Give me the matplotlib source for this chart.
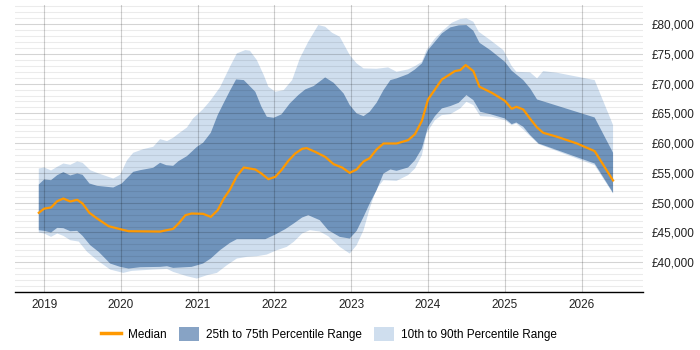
import numpy as np
import matplotlib

matplotlib.use("Agg")
import matplotlib.pyplot as plt
from matplotlib.lines import Line2D
from matplotlib.patches import Patch
from matplotlib.ticker import FuncFormatter, MultipleLocator

plt.rcParams["font.family"] = ["Liberation Sans", "DejaVu Sans"]

# values (x = decimal year, y = salary in GBP)
med_x = [2018.93, 2019.00, 2019.09, 2019.17, 2019.25, 2019.34, 2019.43, 2019.50, 2019.59, 2019.69,
         2019.84, 2020.01, 2020.10, 2020.51, 2020.68, 2020.75, 2020.84, 2020.92, 2021.07, 2021.17,
         2021.26, 2021.34, 2021.42, 2021.51, 2021.60, 2021.75, 2021.83, 2021.92, 2022.01, 2022.09,
         2022.18, 2022.27, 2022.36, 2022.42, 2022.53, 2022.66, 2022.77, 2022.88, 2022.98, 2023.07,
         2023.16, 2023.24, 2023.33, 2023.42, 2023.59, 2023.74, 2023.83, 2023.92, 2024.00, 2024.09,
         2024.18, 2024.27, 2024.35, 2024.42, 2024.49, 2024.59, 2024.67, 2024.83, 2025.00, 2025.09,
         2025.15, 2025.24, 2025.33, 2025.42, 2025.50, 2025.68, 2025.94, 2026.17, 2026.41]
median = [48300, 49000, 49200, 50250, 50700, 50200, 50480, 49860, 48290, 47340,
          46050, 45490, 45210, 45150, 45600, 46500, 47900, 48180, 48130, 47620,
          48740, 50700, 52210, 54460, 55910, 55580, 54900, 53950, 54340, 55460,
          57030, 58260, 59050, 59160, 58540, 57700, 56470, 55910, 55010, 55580,
          56920, 57480, 58940, 59940, 59940, 60500, 61510, 63750, 67340, 69020,
          70700, 71430, 72100, 72270, 73110, 72100, 69470, 68460, 67120, 65770,
          66110, 65660, 64090, 62630, 61740, 61070, 59940, 58660, 53730]

p75_x = [2018.93, 2019.00, 2019.09, 2019.17, 2019.25, 2019.34, 2019.43, 2019.50, 2019.59, 2019.69,
         2019.90, 2020.01, 2020.16, 2020.25, 2020.42, 2020.51, 2020.59, 2020.68, 2020.75, 2020.86,
         2020.99, 2021.07, 2021.17, 2021.26, 2021.34, 2021.42, 2021.50, 2021.60, 2021.75, 2021.83,
         2021.90, 2021.99, 2022.09, 2022.20, 2022.31, 2022.40, 2022.51, 2022.66, 2022.77, 2022.90,
         2022.98, 2023.07, 2023.16, 2023.24, 2023.33, 2023.42, 2023.51, 2023.59, 2023.74, 2023.83,
         2023.92, 2024.00, 2024.09, 2024.18, 2024.29, 2024.40, 2024.50, 2024.59, 2024.67, 2024.81,
         2025.00, 2025.09, 2025.24, 2025.33, 2025.42, 2026.17, 2026.41]
p75 = [53050, 53900, 53780, 54620, 55130, 54570, 54900, 54680, 53220, 52830,
       52550, 53220, 55180, 55460, 55860, 56700, 56300, 56190, 56980, 57820,
       59380, 60060, 61740, 64710, 66780, 68800, 70700, 70590, 68630, 66110,
       64430, 64260, 64820, 66670, 68070, 69020, 69580, 71040, 70140, 68350,
       66390, 64990, 64540, 65270, 66780, 68910, 70590, 70870, 71600, 72380,
       73390, 75630, 77030, 78430, 79440, 79780, 79830, 78880, 76860, 75630,
       73670, 72160, 70590, 69190, 67340, 64310, 58380]

p25_x = [2018.93, 2019.00, 2019.09, 2019.17, 2019.25, 2019.34, 2019.43, 2019.50, 2019.60, 2019.71,
         2019.86, 2019.99, 2020.10, 2020.25, 2020.51, 2020.60, 2020.68, 2020.92, 2021.07, 2021.17,
         2021.29, 2021.42, 2021.51, 2021.75, 2021.88, 2022.01, 2022.14, 2022.25, 2022.36, 2022.44,
         2022.59, 2022.70, 2022.85, 2022.98, 2023.07, 2023.16, 2023.24, 2023.33, 2023.42, 2023.51,
         2023.59, 2023.74, 2023.83, 2023.92, 2024.00, 2024.09, 2024.18, 2024.29, 2024.40, 2024.50,
         2024.59, 2024.68, 2024.81, 2025.00, 2025.09, 2025.15, 2025.24, 2025.33, 2025.44, 2026.17,
         2026.41]
p25 = [45380, 45270, 44990, 45770, 45720, 45210, 45270, 44430, 42860, 41740,
       39780, 39220, 38940, 39160, 39220, 39330, 39050, 39220, 39780, 40620,
       42020, 43250, 43870, 43870, 43870, 44650, 45550, 46500, 47510, 47900,
       47060, 45380, 44260, 43980, 45270, 47620, 49860, 52100, 54900, 55580,
       55350, 55910, 57140, 59100, 62750, 64540, 65830, 66220, 66780, 68070,
       67230, 65270, 64870, 64150, 63190, 63470, 62750, 61350, 59940, 56580,
       51650]

p90_x = [2018.93, 2019.00, 2019.09, 2019.17, 2019.25, 2019.34, 2019.43, 2019.50, 2019.60, 2019.71,
         2019.90, 2019.99, 2020.08, 2020.16, 2020.29, 2020.42, 2020.51, 2020.60, 2020.68, 2020.77,
         2020.86, 2020.94, 2021.07, 2021.16, 2021.29, 2021.42, 2021.51, 2021.62, 2021.68, 2021.77,
         2021.86, 2021.92, 2022.01, 2022.12, 2022.23, 2022.33, 2022.44, 2022.57, 2022.66, 2022.75,
         2022.85, 2022.98, 2023.07, 2023.16, 2023.33, 2023.48, 2023.59, 2023.74, 2023.83, 2023.92,
         2023.98, 2024.09, 2024.20, 2024.31, 2024.42, 2024.50, 2024.59, 2024.66, 2024.81, 2024.98,
         2025.09, 2025.15, 2025.33, 2025.42, 2025.50, 2025.68, 2026.17, 2026.41]
p90 = [55740, 55910, 55410, 56020, 56580, 56360, 56920, 56700, 55460, 54900,
       54060, 54680, 57140, 58380, 58990, 59380, 60670, 60340, 60900, 61790,
       62630, 64150, 65710, 67060, 69360, 72830, 75070, 75630, 75520, 73950,
       71430, 69470, 68630, 68910, 70590, 74230, 77030, 79830, 79550, 78540,
       77870, 74790, 73390, 72550, 72490, 72720, 71990, 72380, 72940, 73670,
       75630, 77590, 78990, 80220, 80840, 80950, 80390, 78710, 77310, 75630,
       72940, 71990, 71880, 70870, 72100, 71820, 70590, 63030]

p10_x = [2018.93, 2019.00, 2019.09, 2019.17, 2019.25, 2019.34, 2019.45, 2019.56, 2019.69, 2019.86,
         2020.03, 2020.14, 2020.42, 2020.60, 2020.68, 2020.86, 2020.99, 2021.12, 2021.25, 2021.38,
         2021.51, 2021.64, 2021.77, 2021.90, 2022.03, 2022.16, 2022.25, 2022.36, 2022.46, 2022.59,
         2022.70, 2022.85, 2022.98, 2023.07, 2023.16, 2023.24, 2023.33, 2023.42, 2023.59, 2023.74,
         2023.83, 2023.92, 2023.98, 2024.09, 2024.18, 2024.29, 2024.42, 2024.50, 2024.59, 2024.68,
         2024.83, 2025.00, 2025.09, 2025.15, 2025.24, 2025.33, 2025.44, 2026.17, 2026.41]
p10 = [44990, 44820, 44260, 44820, 44430, 43700, 43470, 41740, 40340, 38770,
       38210, 38550, 38770, 38880, 38380, 37650, 37260, 37820, 38210, 39500,
       40620, 40900, 41010, 41290, 42020, 42580, 43420, 44820, 45380, 45160,
       44370, 42580, 41460, 42860, 45380, 49020, 52380, 53780, 53670, 54620,
       55740, 57980, 61630, 63870, 64710, 64870, 65830, 66950, 66390, 64540,
       64430, 63870, 63030, 63310, 62300, 61180, 59830, 56300, 51540]

years = list(range(2019, 2027))

LIGHT = "#cfdeee"
DARK = "#6f93bb"
ORANGE = "#ff9900"

fig = plt.figure(figsize=(7, 3.5), dpi=100)
ax = fig.add_axes([15 / 700, 1 - 292 / 350, (643 - 15) / 700, (292 - 5) / 350])

ax.fill(np.r_[p90_x, p10_x[::-1]], np.r_[p90, p10[::-1]], color=LIGHT, lw=0, zorder=1)
ax.fill(np.r_[p75_x, p25_x[::-1]], np.r_[p75, p25[::-1]], color=DARK, lw=0, zorder=1.5)
ax.plot(med_x, median, color=ORANGE, lw=1.6, zorder=4)

ax.set_xlim(2018.62, 2026.8)
ax.set_ylim(35000, 83200)
ax.set_xticks(years)
ax.set_xticklabels([str(y) for y in years])
ax.yaxis.set_major_locator(MultipleLocator(5000))
ax.yaxis.set_minor_locator(MultipleLocator(1000))
ax.yaxis.set_major_formatter(FuncFormatter(lambda v, _: f"£{v:,.0f}" if 40000 <= v <= 80000 else ""))
ax.yaxis.tick_right()
ax.tick_params(axis="both", which="both", length=0, labelsize=8.5, colors="#222222")
ax.tick_params(axis="y", pad=6.5)
ax.tick_params(axis="x", pad=5)

# grid drawn over the bands, semi-transparent so it shows through faintly
ax.set_axisbelow(False)
ax.grid(axis="y", which="major", color="black", alpha=0.17, lw=0.8)
ax.grid(axis="y", which="minor", color="black", alpha=0.08, lw=0.8)
ax.grid(axis="x", which="major", color="black", alpha=0.19, lw=0.8)
for side in ("top", "left", "right"):
    ax.spines[side].set_visible(False)
ax.spines["bottom"].set_color("#000000")
ax.spines["bottom"].set_linewidth(1.0)
ax.spines["bottom"].set_zorder(5)

handles = [Line2D([], [], color=ORANGE, lw=2.5),
           Patch(facecolor="#87a3c5", edgecolor="none"),
           Patch(facecolor=LIGHT, edgecolor="none")]
labels = ["Median", "25th to 75th Percentile Range", "10th to 90th Percentile Range"]
fig.legend(handles, labels, loc="center", bbox_to_anchor=(329 / 700, 1 - 334 / 350), ncol=3,
           frameon=False, fontsize=8.5, handlelength=1.7, handleheight=1.4,
           handletextpad=0.6, columnspacing=1.0)

fig.savefig("out.png", dpi=100)
